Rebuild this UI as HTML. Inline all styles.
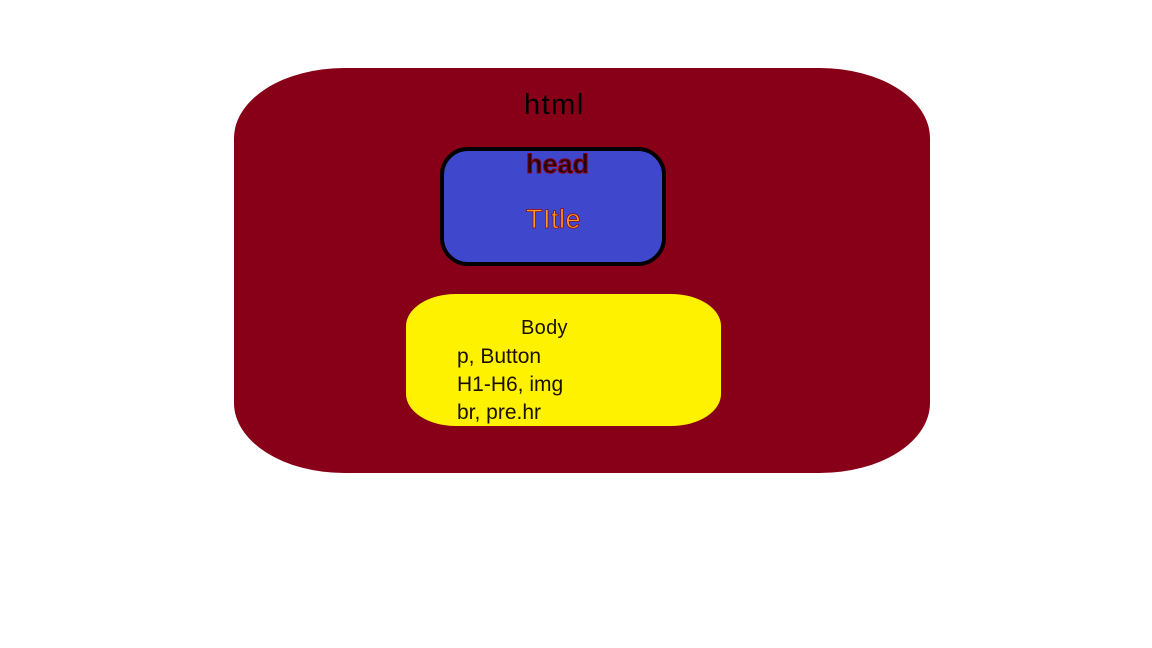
<!DOCTYPE html>
<html><head><style>
body{margin:0;width:1152px;height:648px;background:#fff;position:relative;overflow:hidden;font-family:"Liberation Sans","DejaVu Sans",sans-serif}
div,span{position:absolute}
.o{left:234px;top:68px;width:696px;height:405px;background:#880017;border-radius:110px/70px}
.h{left:440px;top:147px;width:218px;height:111px;background:#3f48cc;border:4px solid #000;border-radius:28px}
.y{left:406px;top:294px;width:315px;height:132px;background:#fff200;border-radius:50px/32px}
.t{white-space:nowrap;line-height:1}
</style></head><body>
<div class="o"></div>
<div class="h"></div>
<div class="y"></div>
<span class="t" style="left:524px;top:91px;font-size:29px;letter-spacing:1.5px;color:#000">html</span>
<span class="t" style="left:526px;top:151px;font-size:27px;color:#2a0008;font-weight:bold;-webkit-text-stroke:1px #880017">head</span>
<span class="t" style="left:526px;top:206px;font-size:27px;letter-spacing:0.5px;color:#ff9a1a;-webkit-text-stroke:0.7px #880017">TItle</span>
<span class="t" style="left:521px;top:318px;font-size:20px;letter-spacing:0.3px;color:#1a1000">Body</span>
<span class="t" style="left:457px;top:346px;font-size:21px;color:#1a1000">p, Button</span>
<span class="t" style="left:457px;top:374px;font-size:21px;color:#1a1000">H1-H6, img</span>
<span class="t" style="left:457px;top:402px;font-size:21px;color:#1a1000">br, pre.hr</span>
</body></html>
